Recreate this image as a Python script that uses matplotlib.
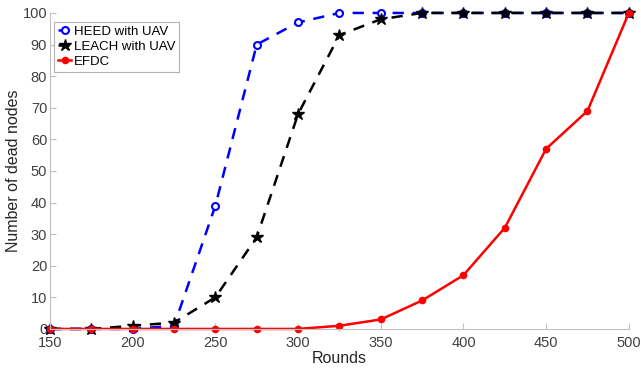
import matplotlib
matplotlib.use("Agg")
import matplotlib.pyplot as plt

plt.rcParams['font.family'] = ['Liberation Sans', 'DejaVu Sans']

rounds = [150, 175, 200, 225, 250, 275, 300, 325, 350, 375, 400, 425, 450, 475, 500]
heed = [0, 0, 0, 1, 39, 90, 97, 100, 100, 100, 100, 100, 100, 100, 100]
leach = [0, 0, 1, 2, 10, 29, 68, 93, 98, 100, 100, 100, 100, 100, 100]
efdc = [0, 0, 0, 0, 0, 0, 0, 1, 3, 9, 17, 32, 57, 69, 100]
xticks = [150, 200, 250, 300, 350, 400, 450, 500]
yticks = list(range(0, 101, 10))

fig = plt.figure(figsize=(6.41, 3.70), dpi=100)
ax = fig.add_axes([0.078, 0.111, 0.903, 0.854])

ax.plot(rounds, heed, color='blue', linestyle='--', linewidth=1.8, marker='o',
        markersize=5, markerfacecolor='white', markeredgewidth=1.5, label='HEED with UAV',
        dashes=(4.5, 3.5), clip_on=False)
ax.plot(rounds, leach, color='black', linestyle='--', linewidth=1.8, marker='*',
        markersize=9, label='LEACH with UAV', dashes=(4.5, 3.5), clip_on=False)
ax.plot(rounds, efdc, color='red', linestyle='-', linewidth=1.8, marker='o',
        markersize=4.5, label='EFDC', clip_on=False)

ax.set_xlim(150, 500)
ax.set_ylim(0, 100)
ax.set_xticks(xticks)
ax.set_yticks(yticks)
for s in ['top', 'right']:
    ax.spines[s].set_visible(False)
for s in ['left', 'bottom']:
    ax.spines[s].set_color('#c0c0c0')
ax.tick_params(direction='in', colors='#c0c0c0', labelcolor='#404040', labelsize=10.5, length=4)
ax.tick_params(axis='x', pad=5)
ax.tick_params(axis='y', pad=2)
ax.set_xlabel('Rounds', fontsize=11.5, color='#262626', labelpad=1)
ax.set_ylabel('Number of dead nodes', fontsize=11.5, color='#262626', labelpad=1)

leg = ax.legend(loc='upper left', bbox_to_anchor=(0.0, 0.985), fontsize=9.5, frameon=True,
                fancybox=False, edgecolor='#a0a0a0', handlelength=1.0, handletextpad=0.2,
                borderpad=0.3, labelspacing=0.2, borderaxespad=0.3)
leg.get_frame().set_linewidth(0.8)

fig.savefig('out.png', dpi=100)
